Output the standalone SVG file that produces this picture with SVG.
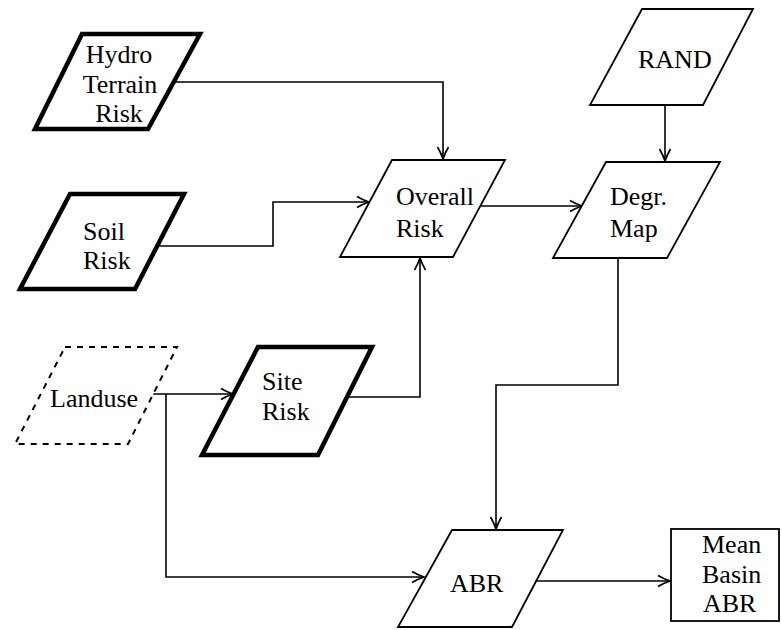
<svg xmlns="http://www.w3.org/2000/svg" width="782" height="630" viewBox="0 0 782 630">
  <defs>
    <marker id="arrow" markerWidth="16" markerHeight="14" refX="13" refY="7" orient="auto" markerUnits="userSpaceOnUse">
      <path d="M1,1.5 Q7,5 13,7 Q7,9 1,12.5" fill="none" stroke="#000" stroke-width="1.7"/>
    </marker>
  </defs>
  <style>
    .bold { fill: #fff; stroke: #000; stroke-width: 4.5; stroke-linejoin: miter; }
    .thin { fill: #fff; stroke: #000; stroke-width: 1.8; }
    .dash { fill: #fff; stroke: #000; stroke-width: 2; stroke-dasharray: 6 6; }
    .lbl { font-family: "Liberation Serif", "Times New Roman", serif; font-size: 26px; fill: #000; }
    .mid { text-anchor: middle; }
    .wire { fill: none; stroke: #000; stroke-width: 1.6; }
  </style>
  <rect width="782" height="630" fill="#fff"/>

  <g id="connectors">
    <!-- Hydro Terrain Risk to Overall Risk -->
    <polyline class="wire" points="173,82 443,82 443,159" marker-end="url(#arrow)"/>
    <!-- Soil Risk to Overall Risk -->
    <polyline class="wire" points="157,246 273,246 273,202 369,202" marker-end="url(#arrow)"/>
    <!-- Site Risk to Overall Risk -->
    <polyline class="wire" points="345,397 420,397 420,258" marker-end="url(#arrow)"/>
    <!-- Landuse to Site Risk -->
    <polyline class="wire" points="153,394 233,394" marker-end="url(#arrow)"/>
    <!-- Landuse to ABR -->
    <polyline class="wire" points="166,394 166,577 424,577" marker-end="url(#arrow)"/>
    <!-- Overall Risk to Degr. Map -->
    <polyline class="wire" points="480,206 582,206" marker-end="url(#arrow)"/>
    <!-- RAND to Degr. Map -->
    <polyline class="wire" points="665,105 665,161" marker-end="url(#arrow)"/>
    <!-- Degr. Map to ABR -->
    <polyline class="wire" points="618,258 618,385 496,385 496,529" marker-end="url(#arrow)"/>
    <!-- ABR to Mean Basin ABR -->
    <polyline class="wire" points="536,581 670,581" marker-end="url(#arrow)"/>
  </g>

  <g id="hydro-terrain-risk">
    <polygon class="bold" points="82,34 200,34 148,129 35,129"/>
    <text class="lbl mid" x="119" y="63">Hydro</text>
    <text class="lbl mid" x="120" y="93">Terrain</text>
    <text class="lbl mid" x="119" y="122">Risk</text>
  </g>

  <g id="soil-risk">
    <polygon class="bold" points="70,194 184,194 135,289 20,289"/>
    <text class="lbl" x="83" y="240">Soil</text>
    <text class="lbl" x="83" y="269">Risk</text>
  </g>

  <g id="landuse">
    <polygon class="dash" points="65,347 177,347 128,444 15,444"/>
    <text class="lbl" x="50" y="407">Landuse</text>
  </g>

  <g id="site-risk">
    <polygon class="bold" points="258,347 372,347 318,455 202,455"/>
    <text class="lbl" x="262" y="390">Site</text>
    <text class="lbl" x="262" y="420">Risk</text>
  </g>

  <g id="overall-risk">
    <polygon class="thin" points="392,160 505,160 453,257 340,257"/>
    <text class="lbl" x="396" y="205">Overall</text>
    <text class="lbl" x="396" y="237">Risk</text>
  </g>

  <g id="rand">
    <polygon class="thin" points="642,9 753,9 703,105 590,105"/>
    <text class="lbl" x="638" y="68">RAND</text>
  </g>

  <g id="degr-map">
    <polygon class="thin" points="606,162 720,162 667,258 553,258"/>
    <text class="lbl" x="610" y="205">Degr.</text>
    <text class="lbl" x="610" y="237">Map</text>
  </g>

  <g id="abr">
    <polygon class="thin" points="452,530 563,530 512,627 398,627"/>
    <text class="lbl" x="450" y="592">ABR</text>
  </g>

  <g id="mean-basin-abr">
    <rect class="thin" x="671" y="529" width="108" height="92"/>
    <text class="lbl" x="702" y="553">Mean</text>
    <text class="lbl" x="702" y="583">Basin</text>
    <text class="lbl" x="703" y="612">ABR</text>
  </g>
</svg>
